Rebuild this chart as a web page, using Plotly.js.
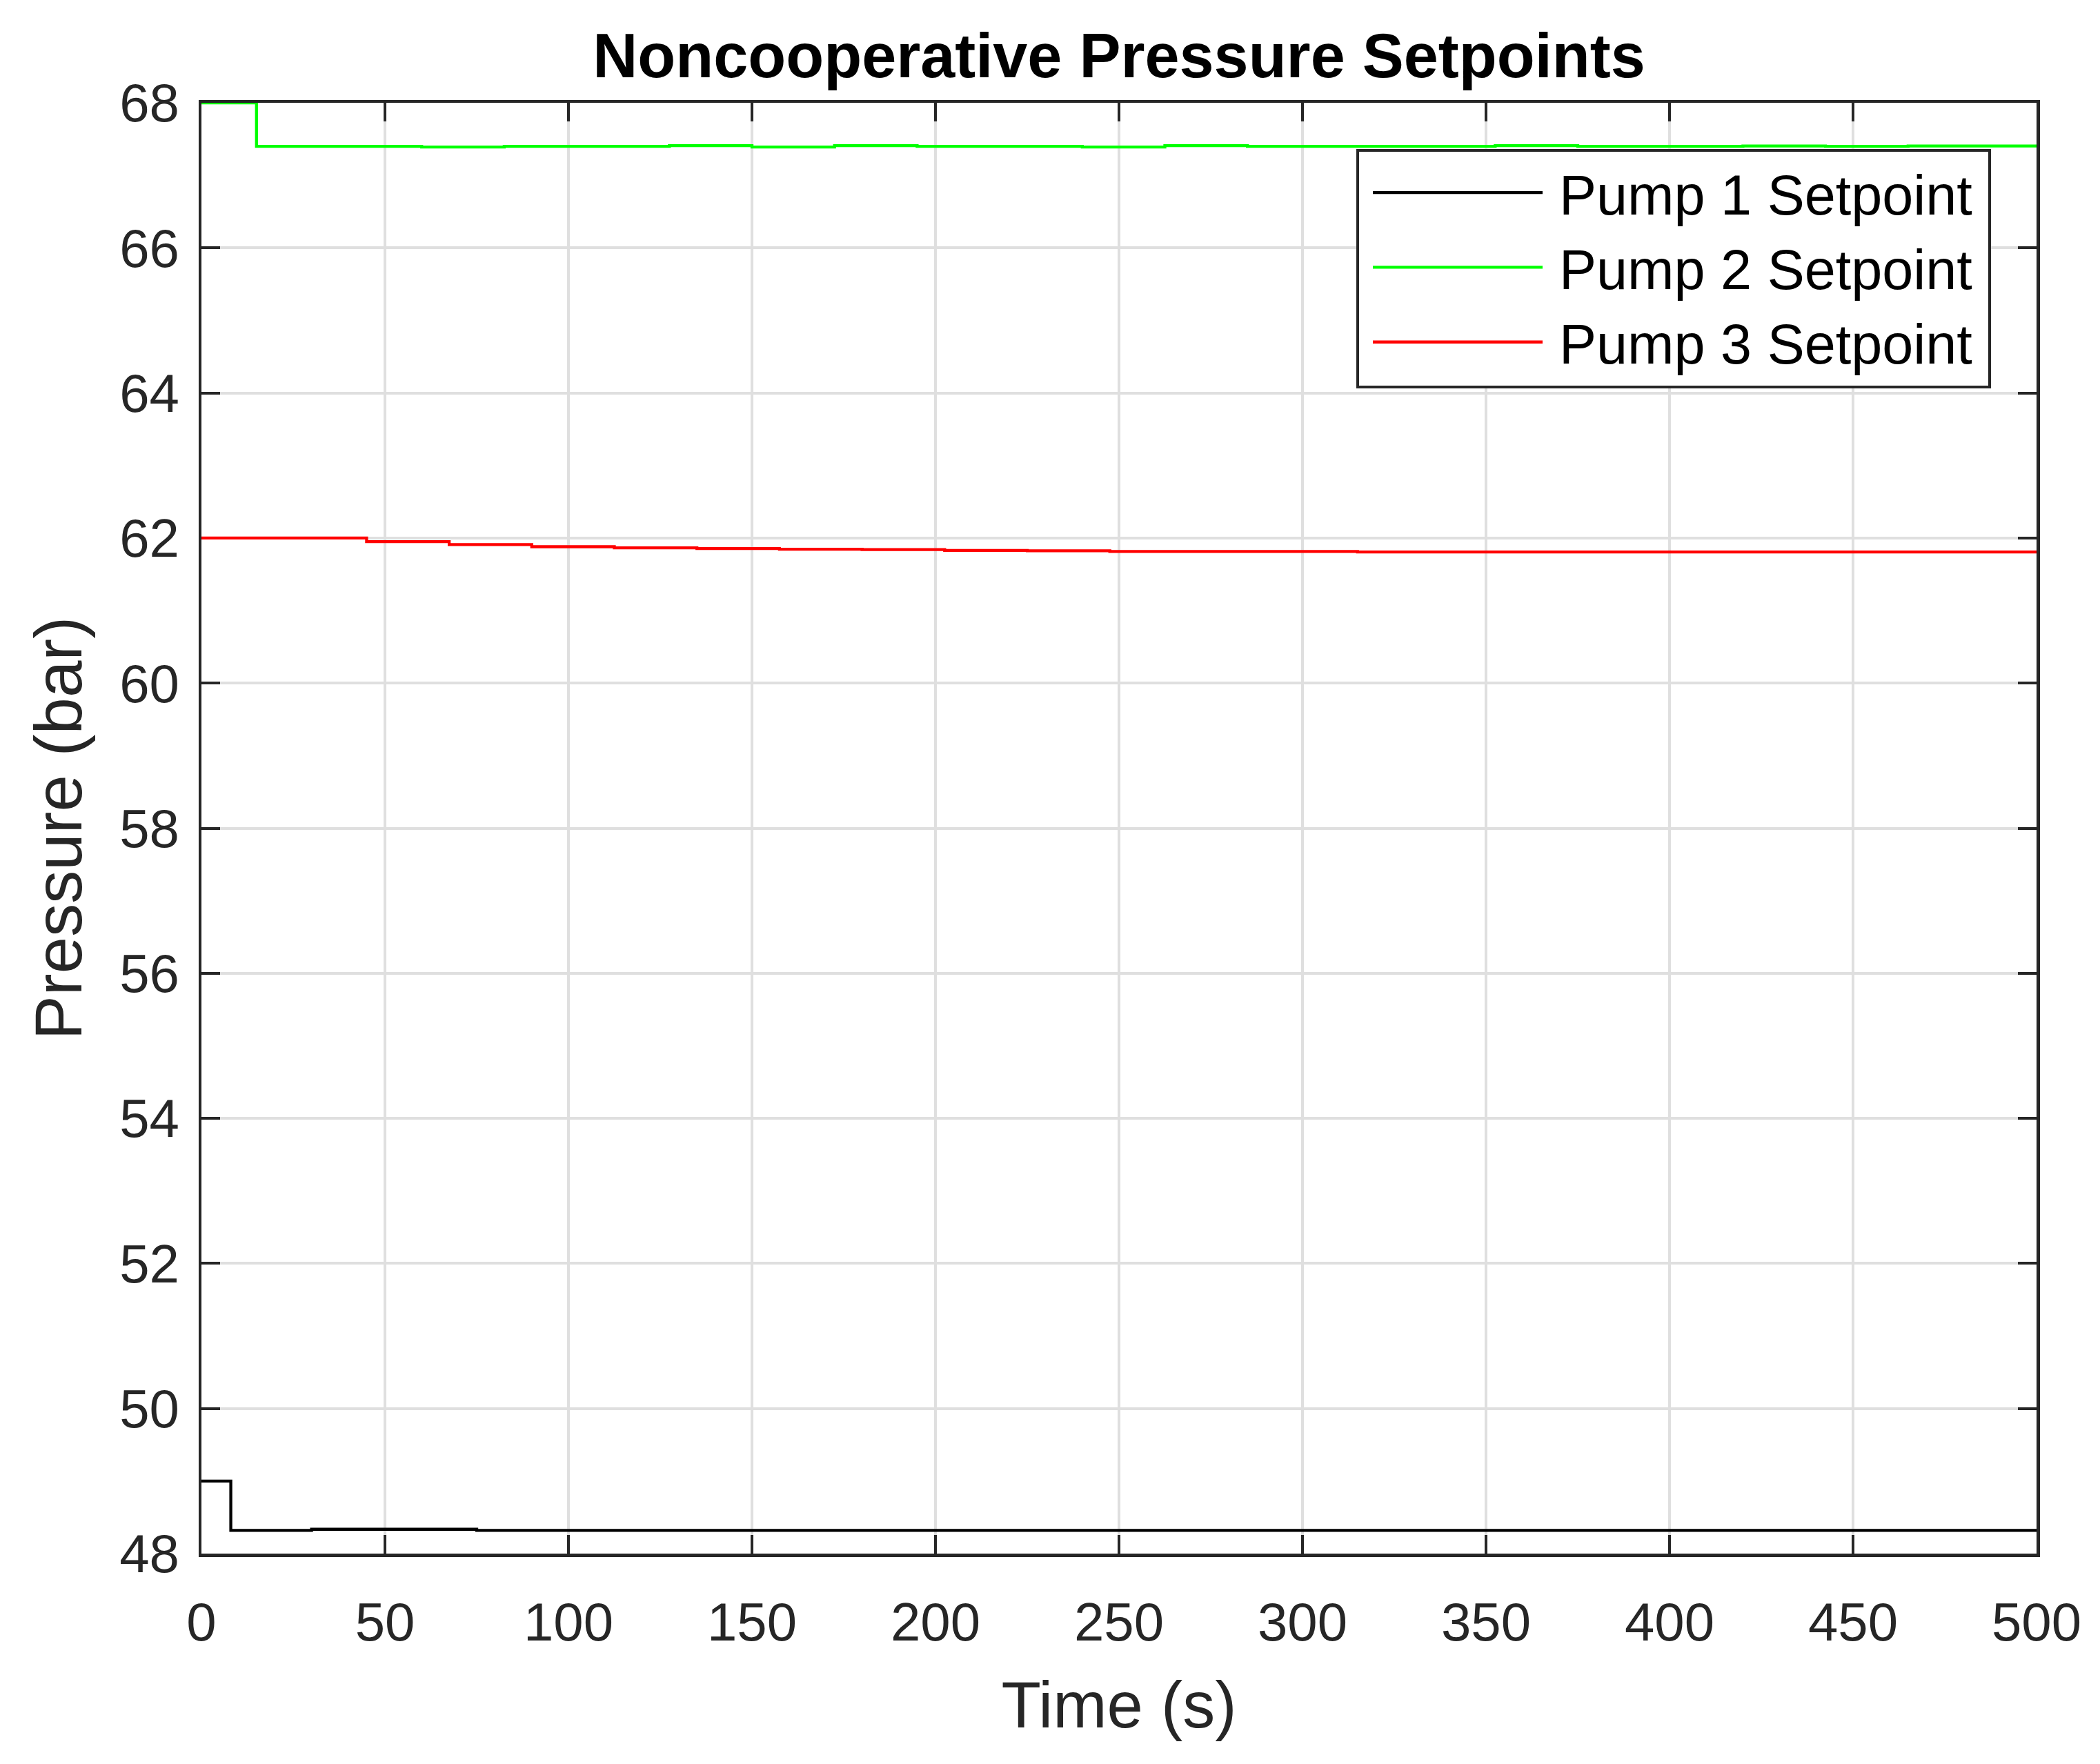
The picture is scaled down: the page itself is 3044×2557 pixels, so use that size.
<!DOCTYPE html>
<html>
<head>
<meta charset="utf-8">
<script src="https://cdn.plot.ly/plotly-3.0.1.min.js"></script>
<style>
html, body { margin: 0; padding: 0; background: #ffffff; }
#chart { width: 3044px; height: 2557px; }
</style>
</head>
<body>
<div id="chart"></div>
<script>
// ---- data ----
const chartTitle = "Noncooperative Pressure Setpoints";
const xLabel = "Time (s)";
const yLabel = "Pressure (bar)";
const seriesNames = ["Pump 1 Setpoint", "Pump 2 Setpoint", "Pump 3 Setpoint"];
const seriesColors = ["#000000", "#00ff00", "#ff0000"];

const pump1Time = [0, 8, 30, 75, 500];
const pump1Pressure = [49.0, 48.32, 48.335, 48.32, 48.32];

const pump2Time = [0, 15, 60, 82.5, 127.5, 150, 172.5, 195, 240, 262.5, 285, 352.5, 375, 420, 442.5, 465, 500];
const pump2Pressure = [68.0, 67.40, 67.39, 67.40, 67.41, 67.39, 67.41, 67.40, 67.39, 67.41, 67.40, 67.41, 67.40, 67.405, 67.40, 67.405, 67.405];

const pump3Time = [0, 45, 67.5, 90, 112.5, 135, 157.5, 180, 202.5, 225, 247.5, 315, 500];
const pump3Pressure = [62.0, 61.95, 61.91, 61.88, 61.865, 61.855, 61.845, 61.84, 61.83, 61.825, 61.815, 61.808, 61.808];

const xTicks = [0, 50, 100, 150, 200, 250, 300, 350, 400, 450, 500];
const yTicks = [48, 50, 52, 54, 56, 58, 60, 62, 64, 66, 68];

// ---- chart ----
const FONT = "Liberation Sans, Arial, Helvetica, sans-serif";
const AX = "#262626";

const times = [pump1Time, pump2Time, pump3Time];
const values = [pump1Pressure, pump2Pressure, pump3Pressure];

const traces = seriesNames.map((name, i) => ({
  type: "scatter",
  mode: "lines",
  name: name,
  x: times[i],
  y: values[i],
  line: { color: seriesColors[i], width: 4.3, shape: "hv" },
  hoverinfo: "skip"
}));

const axisCommon = {
  showline: true,
  linecolor: AX,
  linewidth: 4.5,
  mirror: "ticks",
  ticks: "inside",
  ticklen: 27,
  tickwidth: 4,
  tickcolor: AX,
  showgrid: true,
  gridcolor: "#dfdfdf",
  gridwidth: 4,
  zeroline: false,
  layer: "below traces",
  tickfont: { family: FONT, size: 78, color: AX },
  fixedrange: true
};

const layout = {
  width: 3044,
  height: 2557,
  paper_bgcolor: "#ffffff",
  plot_bgcolor: "#ffffff",
  margin: { l: 292, r: 92, t: 149, b: 305, pad: 0 },
  title: {
    text: "<b>" + chartTitle + "</b>",
    font: { family: FONT, size: 90, color: "#000000" },
    x: 0.5, xref: "paper", xanchor: "center",
    y: 1 - 80 / 2557, yref: "container", yanchor: "middle"
  },
  xaxis: Object.assign({}, axisCommon, {
    range: [0, 500],
    tickmode: "array",
    tickvals: xTicks,
    ticktext: xTicks.map(String),
    ticklabelstandoff: 28,
    title: { text: xLabel, font: { family: FONT, size: 94, color: AX }, standoff: 45 }
  }),
  yaxis: Object.assign({}, axisCommon, {
    range: [48, 68],
    tickmode: "array",
    tickvals: yTicks,
    ticktext: yTicks.map(String),
    ticklabelstandoff: 12,
    title: { text: yLabel, font: { family: FONT, size: 96, color: AX }, standoff: 24 }
  }),
  showlegend: true,
  legend: {
    x: (1966 - 292) / 2660,
    y: (2252 - 216) / 2103,
    xanchor: "left",
    yanchor: "top",
    bgcolor: "#ffffff",
    bordercolor: AX,
    borderwidth: 4,
    font: { family: FONT, size: 81, color: "#000000" },
    itemwidth: 280,
    traceorder: "normal"
  }
};

Plotly.newPlot("chart", traces, layout, { staticPlot: true, displayModeBar: false }).then(function () {
  // lengthen the legend line samples to fill the item width
  document.querySelectorAll("#chart .legend .legendlines path").forEach(function (p) {
    p.setAttribute("d", "M20,0h246");
  });
  // widen the legend box slightly to match the reference padding
  document.querySelectorAll("#chart .legend rect.bg").forEach(function (r) {
    var w = parseFloat(r.getAttribute("width"));
    var h = parseFloat(r.getAttribute("height"));
    if (!isNaN(w)) r.setAttribute("width", w + 18);
    if (!isNaN(h)) r.setAttribute("height", h + 4);
  });
});
</script>
</body>
</html>
